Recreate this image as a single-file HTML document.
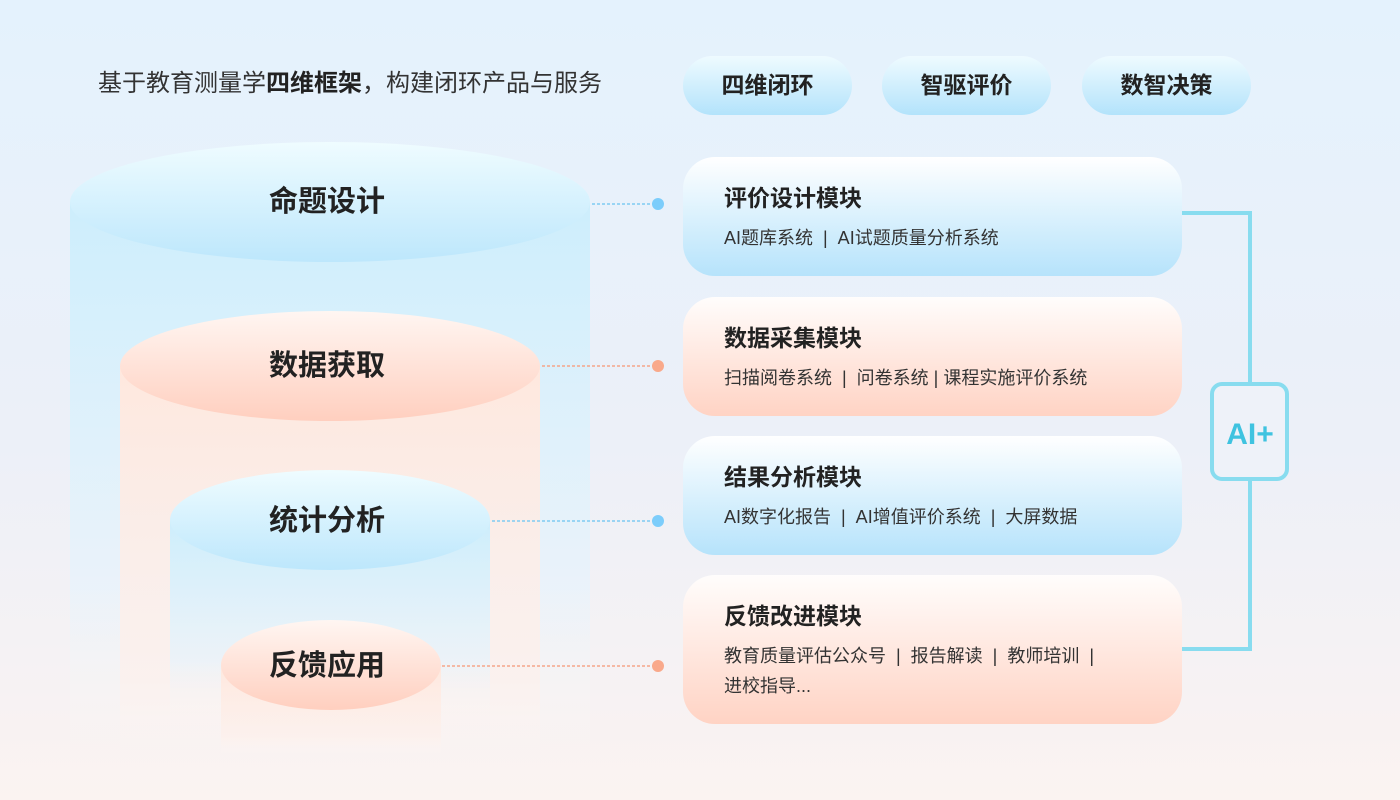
<!DOCTYPE html>
<html><head><meta charset="utf-8"><style>
*{margin:0;padding:0;box-sizing:border-box}
body{width:1400px;height:800px;overflow:hidden;font-family:"Liberation Sans","Noto Sans CJK SC",sans-serif;background:linear-gradient(180deg,#e4f2fd 0%,#ecf0f8 55%,#fbf3f1 100%);position:relative;color:#222}
.hdr{position:absolute;left:98px;top:63px;font-size:24px;color:#333}
.hdr b{color:#222}
.pill{position:absolute;top:56px;width:169px;height:59px;border-radius:30px;background:linear-gradient(180deg,#effbff 0%,#b3e3fb 100%);font-size:23px;font-weight:bold;text-align:center;line-height:59px;color:#222}
.card{position:absolute;left:683px;width:499px;border-radius:32px;padding:22px 0 0 41px}
.blue{background:linear-gradient(180deg,#ffffff 0%,#b6e3fb 100%)}
.pink{background:linear-gradient(180deg,#fffdfc 0%,#ffd3c4 100%)}
.card h3{font-size:23px;font-weight:bold;color:#222;margin-bottom:10px}
.card p{font-size:18px;color:#333;line-height:30px}
svg{position:absolute;left:0;top:0}
</style></head><body>
<svg width="1400" height="800">
<defs>
<linearGradient id="bbody" x1="0" y1="0" x2="0" y2="1"><stop offset="0" stop-color="#cdeefc"/><stop offset="0.7" stop-color="#e8f3fb" stop-opacity="0.8"/><stop offset="1" stop-color="#fdf6f3" stop-opacity="0"/></linearGradient>
<linearGradient id="pbody" x1="0" y1="0" x2="0" y2="1"><stop offset="0" stop-color="#ffe8de"/><stop offset="0.8" stop-color="#fdf0eb" stop-opacity="0.7"/><stop offset="1" stop-color="#fdf6f3" stop-opacity="0"/></linearGradient>
<linearGradient id="btop" x1="0" y1="0" x2="0" y2="1"><stop offset="0" stop-color="#effcff"/><stop offset="1" stop-color="#bde7fc"/></linearGradient>
<linearGradient id="ptop" x1="0" y1="0" x2="0" y2="1"><stop offset="0" stop-color="#fff6f2"/><stop offset="1" stop-color="#ffcfbf"/></linearGradient>
</defs>
<rect x="70" y="202" width="520" height="550" fill="url(#bbody)"/>
<ellipse cx="330" cy="202" rx="260" ry="60" fill="url(#btop)"/>
<rect x="120" y="366" width="420" height="390" fill="url(#pbody)"/>
<ellipse cx="330" cy="366" rx="210" ry="55" fill="url(#ptop)"/>
<rect x="170" y="520" width="320" height="200" fill="url(#bbody)"/>
<ellipse cx="330" cy="520" rx="160" ry="50" fill="url(#btop)"/>
<rect x="221" y="665" width="220" height="90" fill="url(#pbody)"/>
<ellipse cx="331" cy="665" rx="110" ry="45" fill="url(#ptop)"/>
<g font-family="Liberation Sans,Noto Sans CJK SC,sans-serif" font-weight="bold" font-size="29" fill="#222" text-anchor="middle">
<text x="327" y="211">命题设计</text>
<text x="327" y="375">数据获取</text>
<text x="327" y="530">统计分析</text>
<text x="327" y="675">反馈应用</text>
</g>
<g stroke-width="1.5" stroke-dasharray="3,2">
<line x1="592" y1="204" x2="655" y2="204" stroke="#7ecbf2"/>
<line x1="542" y1="366" x2="655" y2="366" stroke="#f5a68a"/>
<line x1="492" y1="521" x2="655" y2="521" stroke="#7ecbf2"/>
<line x1="442" y1="666" x2="655" y2="666" stroke="#f5a68a"/>
</g>
<circle cx="658" cy="204" r="6" fill="#7ccdfb"/>
<circle cx="658" cy="366" r="6" fill="#f9a98b"/>
<circle cx="658" cy="521" r="6" fill="#7ccdfb"/>
<circle cx="658" cy="666" r="6" fill="#f9a98b"/>
<polyline points="1182,213 1250,213 1250,649 1182,649" fill="none" stroke="#88dcef" stroke-width="4"/>
<rect x="1212" y="384" width="75" height="95" rx="10" fill="#eef2f9" stroke="#88dcef" stroke-width="4"/>
<text x="1250" y="444" text-anchor="middle" font-family="Liberation Sans,sans-serif" font-weight="bold" font-size="30" fill="#3fc3e0">AI+</text>
</svg>
<div class="hdr">基于教育测量学<b>四维框架</b>，构建闭环产品与服务</div>
<div class="pill" style="left:683px">四维闭环</div>
<div class="pill" style="left:882px">智驱评价</div>
<div class="pill" style="left:1082px">数智决策</div>
<div class="card blue" style="top:157px;height:119px"><h3>评价设计模块</h3><p>AI题库系统 &nbsp;|&nbsp; AI试题质量分析系统</p></div>
<div class="card pink" style="top:297px;height:119px"><h3>数据采集模块</h3><p>扫描阅卷系统 &nbsp;|&nbsp; 问卷系统 | 课程实施评价系统</p></div>
<div class="card blue" style="top:436px;height:119px"><h3>结果分析模块</h3><p>AI数字化报告 &nbsp;|&nbsp; AI增值评价系统 &nbsp;|&nbsp; 大屏数据</p></div>
<div class="card pink" style="top:575px;height:149px"><h3>反馈改进模块</h3><p>教育质量评估公众号 &nbsp;|&nbsp; 报告解读 &nbsp;|&nbsp; 教师培训 &nbsp;|<br>进校指导...</p></div>
</body></html>
